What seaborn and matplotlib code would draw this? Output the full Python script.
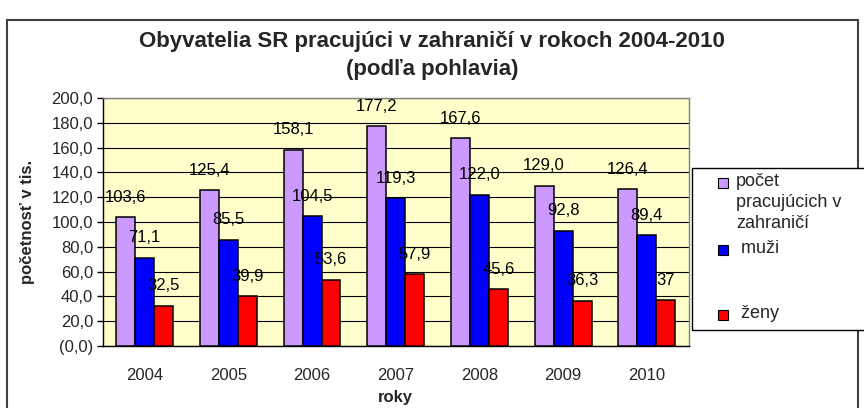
import pandas as pd
import matplotlib.pyplot as plt
import seaborn as sns
from matplotlib.patches import Rectangle
from matplotlib.ticker import FuncFormatter, FixedLocator

# data
years = ["2004", "2005", "2006", "2007", "2008", "2009", "2010"]
series = ["počet pracujúcich v zahraničí", "muži", "ženy"]
total = [103.6, 125.4, 158.1, 177.2, 167.6, 129.0, 126.4]
men = [71.1, 85.5, 104.5, 119.3, 122.0, 92.8, 89.4]
women = [32.5, 39.9, 53.6, 57.9, 45.6, 36.3, 37.0]
women_labels = ["32,5", "39,9", "53,6", "57,9", "45,6", "36,3", "37"]
legend_labels = ["počet\npracujúcich v\nzahraničí", " muži", " ženy"]
colors = ["#CC99FF", "#0000FF", "#FF0000"]

sns.set_style("white")
plt.rcParams["font.family"] = ["Liberation Sans", "DejaVu Sans"]

df = pd.DataFrame({
    "rok": years * 3,
    "séria": [s for s in series for _ in years],
    "hodnota": total + men + women,
})

fig = plt.figure(figsize=(8.64, 4.08), dpi=100)
ax = fig.add_axes([0.119, 0.152, 0.678, 0.608])

sns.barplot(
    data=df, x="rok", y="hodnota", hue="séria", order=years, hue_order=series,
    palette=dict(zip(series, colors)), saturation=1, width=0.68,
    edgecolor="black", linewidth=1.1, legend=False, ax=ax, zorder=3,
)

# data labels
fmt = lambda v: f"{v:.1f}".replace(".", ",")
all_labels = [[fmt(v) for v in total], [fmt(v) for v in men], women_labels]
for cont, labs in zip(ax.containers, all_labels):
    ax.bar_label(cont, labels=labs, padding=9, fontsize=12, color="black")

ax.set_facecolor("#FFFFCC")
ax.set_ylim(0, 200)
ax.set_xlim(-0.5, len(years) - 0.5)
ax.set_yticks(range(0, 201, 20))
ax.yaxis.set_major_formatter(FuncFormatter(
    lambda v, p: "(0,0)" if v == 0 else f"{v:.1f}".replace(".", ",")))
ax.grid(axis="y", color="black", linewidth=0.8, zorder=0)
ax.set_axisbelow(True)

# category ticks sit between groups
ax.xaxis.set_minor_locator(FixedLocator([i - 0.5 for i in range(len(years) + 1)]))
ax.tick_params(axis="x", which="major", length=0, labelsize=12, pad=16)
ax.tick_params(axis="x", which="minor", length=5, width=1, color="black", direction="out")
ax.tick_params(axis="y", length=4, width=1, color="black", direction="out",
               labelsize=12, pad=3, left=True)

for side in ["left", "bottom"]:
    ax.spines[side].set_color("black")
    ax.spines[side].set_linewidth(1)
for side in ["top", "right"]:
    ax.spines[side].set_color("#808080")
    ax.spines[side].set_linewidth(1)

ax.set_xlabel("roky", fontsize=12, fontweight="bold", labelpad=5)
ax.set_ylabel("početnosť v tis.", fontsize=12, fontweight="bold", labelpad=12)

fig.suptitle("Obyvatelia SR pracujúci v zahraničí v rokoch 2004-2010\n(podľa pohlavia)",
             fontsize=16, fontweight="bold", y=1 - 31 / 408, va="top",
             linespacing=1.45)

# outer chart border
fig.add_artist(Rectangle((7 / 864, -0.01), 851 / 864, 1 - 20 / 408 + 0.01,
                         transform=fig.transFigure, fill=False,
                         edgecolor="#404040", linewidth=1.5, clip_on=False))

# legend box, Excel-like layout
fig.add_artist(Rectangle((692 / 864, 1 - 330 / 408), 0.3, 162 / 408,
                         transform=fig.transFigure, facecolor="white",
                         edgecolor="black", linewidth=1, clip_on=False))
legend_y = [183, 250, 315]
for lab, col, y in zip(legend_labels, colors, legend_y):
    fig.add_artist(Rectangle((718 / 864, 1 - (y + 5) / 408), 10 / 864, 10 / 408,
                             transform=fig.transFigure, facecolor=col,
                             edgecolor="black", linewidth=0.8))
    fig.text(736 / 864, 1 - (y - 10) / 408, lab, fontsize=13, va="top", ha="left",
             linespacing=1.3)

fig.savefig("out.png", dpi=100)
